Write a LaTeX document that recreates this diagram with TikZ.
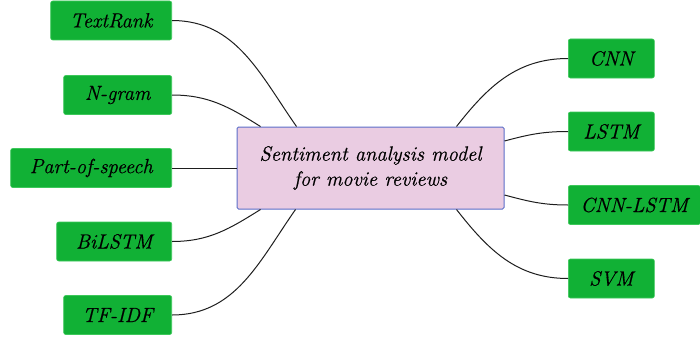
\documentclass[tikz,border=0pt]{standalone}
\usepackage{fontspec}
\setmainfont{Latin Modern Roman}[ItalicFeatures={FakeBold=0.6}]
\usetikzlibrary{calc}
\definecolor{leafgreen}{RGB}{17,177,53}
\definecolor{leafedge}{RGB}{60,200,90}
\definecolor{hubfill}{RGB}{234,204,226}
\definecolor{hubedge}{RGB}{92,110,200}
\definecolor{linkgray}{RGB}{30,30,30}
\tikzset{
  leaf/.style={fill=leafgreen, draw=leafedge, line width=0.6pt, rounded corners=2pt,
    minimum height=39pt, inner sep=0pt, font=\fontsize{20.5}{24}\selectfont\itshape},
  hub/.style={fill=hubfill, draw=hubedge, line width=1pt, rounded corners=1.5pt,
    minimum width=267pt, minimum height=82pt, align=center, inner sep=0pt,
    font=\fontsize{20.5}{25}\selectfont\itshape},
  link/.style={draw=linkgray, line width=1pt}
}
\begin{document}
\begin{tikzpicture}[x=1pt, y=-1pt]
\useasboundingbox (0,0) rectangle (700,337);

% central topic
\node[hub] (hub) at (370.5,168) {Sentiment analysis model\\for movie reviews};

% feature extraction branches (left)
\node[leaf, anchor=east, minimum width=121pt] (textrank) at (172,20.5) {TextRank};
\node[leaf, anchor=east, minimum width=108pt] (ngram) at (172,95) {N-gram};
\node[leaf, anchor=east, minimum width=161pt] (pos) at (172,168) {Part-of-speech};
\node[leaf, anchor=east, minimum width=115pt] (bilstm) at (172,241.5) {BiLSTM};
\node[leaf, anchor=east, minimum width=108pt] (tfidf) at (172,315) {TF-IDF};

% classifier branches (right)
\node[leaf, anchor=west, minimum width=86pt] (cnn) at (568,58.5) {CNN};
\node[leaf, anchor=west, minimum width=86pt] (lstm) at (568,131.5) {LSTM};
\node[leaf, anchor=west, minimum width=132pt] (cnnlstm) at (568,205) {CNN-LSTM};
\node[leaf, anchor=west, minimum width=86pt] (svm) at (568,278.5) {SVM};

% attachment points on the central box
\coordinate (tA) at ($(hub.north west)+(60,0)$);
\coordinate (tB) at ($(hub.north west)+(24,0)$);
\coordinate (bB) at ($(hub.south west)+(24,0)$);
\coordinate (bA) at ($(hub.south west)+(59,0)$);
\coordinate (tR) at ($(hub.north east)+(-48,0)$);
\coordinate (rU) at ($(hub.east)+(0,-27)$);
\coordinate (rD) at ($(hub.east)+(0,27)$);
\coordinate (bR) at ($(hub.south east)+(-48,0)$);

% connectors
\draw[link] (textrank.east) to[out=0, in=125] (tA);
\draw[link] (ngram.east) to[out=0, in=148] (tB);
\draw[link] (pos.east) -- (hub.west);
\draw[link] (bilstm.east) to[out=0, in=212] (bB);
\draw[link] (tfidf.east) to[out=0, in=235] (bA);
\draw[link] (tR) to[out=52, in=180] (cnn.west);
\draw[link] (rU) to[out=15, in=180] (lstm.west);
\draw[link] (rD) to[out=-15, in=180] (cnnlstm.west);
\draw[link] (bR) to[out=-52, in=180] (svm.west);
\end{tikzpicture}
\end{document}
